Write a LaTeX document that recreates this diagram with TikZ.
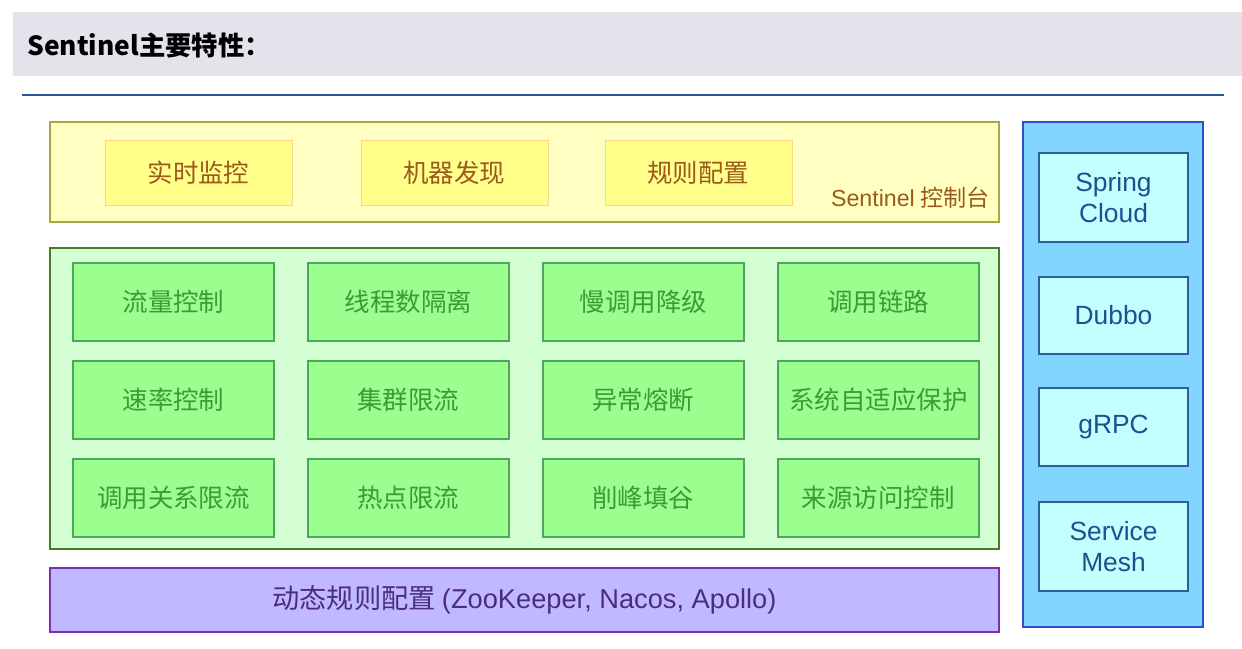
\documentclass[tikz,border=0pt]{standalone}
\usepackage{fontspec}
\setmainfont{Noto Sans CJK SC}
\newfontfamily\latinsf{Liberation Sans}
\usetikzlibrary{positioning}
\definecolor{headgray}{HTML}{E4E3EC}
\definecolor{ruleblue}{HTML}{2E54A0}
\definecolor{consolefill}{HTML}{FFFFC2}
\definecolor{consoledraw}{HTML}{A8A840}
\definecolor{yelfill}{HTML}{FFFF8A}
\definecolor{yeldraw}{HTML}{FFD48A}
\definecolor{yeltext}{HTML}{9C5A1C}
\definecolor{corefill}{HTML}{D4FFD4}
\definecolor{coredraw}{HTML}{4A7A2C}
\definecolor{grnfill}{HTML}{9AFF8E}
\definecolor{grndraw}{HTML}{4CA858}
\definecolor{grntext}{HTML}{3D9B35}
\definecolor{dynfill}{HTML}{C0B9FF}
\definecolor{dyndraw}{HTML}{7B2FB5}
\definecolor{dyntext}{HTML}{4B2D7F}
\definecolor{adaptfill}{HTML}{82D5FF}
\definecolor{adaptdraw}{HTML}{2F4FC6}
\definecolor{frmfill}{HTML}{C2FFFF}
\definecolor{frmdraw}{HTML}{2E5E9A}
\definecolor{frmtext}{HTML}{1F4F8F}
\tikzstyle{console} = [rectangle, minimum width=18.98cm, minimum height=2cm, fill=consolefill, draw=consoledraw, line width=0.8pt]
\tikzstyle{consoleitem} = [rectangle, minimum width=3.74cm, minimum height=1.3cm, fill=yelfill, draw=yeldraw, text=yeltext, font=\fontsize{14.5}{17}\selectfont, outer sep=0pt]
\tikzstyle{core} = [rectangle, minimum width=18.98cm, minimum height=6.02cm, fill=corefill, draw=coredraw, line width=0.8pt]
\tikzstyle{feature} = [rectangle, minimum width=4.02cm, minimum height=1.56cm, fill=grnfill, draw=grndraw, line width=0.8pt, text=grntext, font=\fontsize{14.5}{17}\selectfont, outer sep=0pt]
\tikzstyle{dynrule} = [rectangle, minimum width=18.98cm, minimum height=1.28cm, fill=dynfill, draw=dyndraw, line width=0.8pt, text=dyntext, font=\fontsize{15.5}{18}\selectfont]
\tikzstyle{adapter} = [rectangle, minimum width=3.6cm, minimum height=10.1cm, fill=adaptfill, draw=adaptdraw, line width=0.8pt]
\tikzstyle{framework} = [rectangle, minimum width=2.98cm, fill=frmfill, draw=frmdraw, line width=0.8pt, text=frmtext, align=center, font=\fontsize{15}{17.5}\selectfont\latinsf, outer sep=0pt]
\begin{document}
\begin{tikzpicture}[x=0.02cm, y=-0.02cm]

    \useasboundingbox (0,0) rectangle (1242,649);

    \fill[headgray] (13,12) rectangle (1242,76);
    \node (title) [anchor=west, font=\fontsize{15}{18}\selectfont\bfseries] at (21,45) {Sentinel主要特性：};
    \draw[ruleblue, line width=0.9pt] (22,95) -- (1224,95);

    % console
    \node (console) [console] at (524.5,172) {};
    \node (monitor) [consoleitem] at (198.5,172.5) {实时监控};
    \node (discover) [consoleitem, right=1.38cm of monitor] {机器发现};
    \node (ruleconf) [consoleitem, right=1.14cm of discover] {规则配置};
    \node (consolelbl) [anchor=base east, text=yeltext, font=\fontsize{13.2}{15}\selectfont, inner sep=0pt] at (990,206) {{\latinsf Sentinel} 控制台};

    % core features
    \node (core) [core] at (524.5,398.5) {};
    \node (flow) [feature] at (173.5,302) {流量控制};
    \node (thread) [feature, right=0.68cm of flow] {线程数隔离};
    \node (degrade) [feature, right=0.68cm of thread] {慢调用降级};
    \node (chain) [feature, right=0.68cm of degrade] {调用链路};

    \node (rate) [feature, below=0.4cm of flow] {速率控制};
    \node (cluster) [feature, below=0.4cm of thread] {集群限流};
    \node (breaker) [feature, below=0.4cm of degrade] {异常熔断};
    \node (adaptive) [feature, below=0.4cm of chain] {系统自适应保护};

    \node (relation) [feature, below=0.4cm of rate] {调用关系限流};
    \node (hotspot) [feature, below=0.4cm of cluster] {热点限流};
    \node (shaping) [feature, below=0.4cm of breaker] {削峰填谷};
    \node (origin) [feature, below=0.4cm of adaptive] {来源访问控制};

    % datasource
    \node (dynamic) [dynrule] at (524.5,600) {动态规则配置 {\latinsf(ZooKeeper, Nacos, Apollo)}};

    % adapters
    \node (adapter) [adapter] at (1113,374.5) {};
    \node (spring) [framework, minimum height=1.78cm] at (1113.5,197.5) {Spring\\Cloud};
    \node (dubbo) [framework, minimum height=1.54cm, below=0.7cm of spring] {Dubbo};
    \node (grpc) [framework, minimum height=1.56cm, below=0.68cm of dubbo] {gRPC};
    \node (mesh) [framework, minimum height=1.78cm, below=0.72cm of grpc] {Service\\Mesh};

\end{tikzpicture}
\end{document}
